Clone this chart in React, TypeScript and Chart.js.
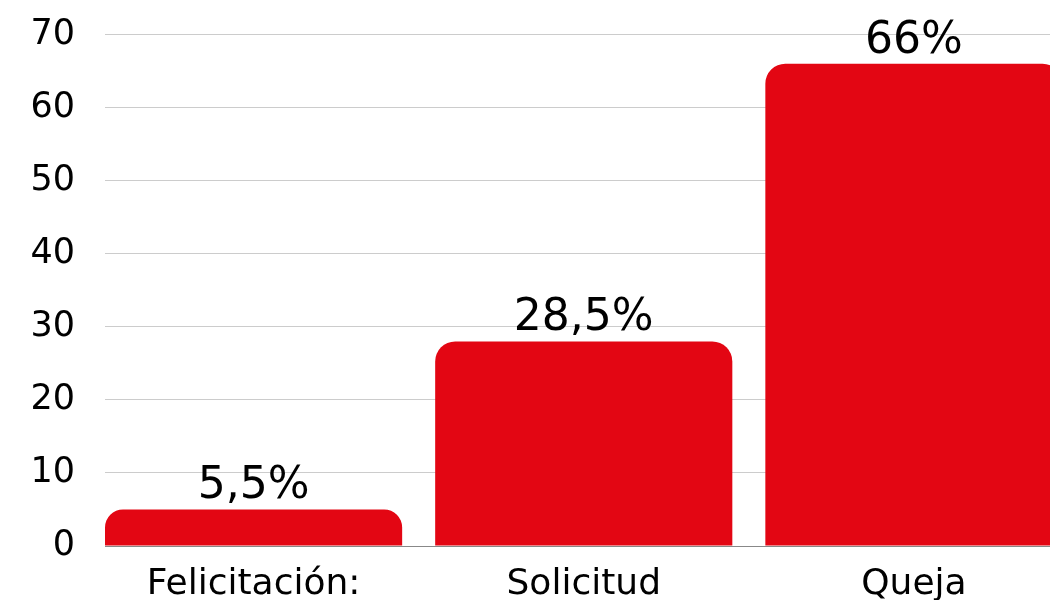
import React, { useEffect, useRef } from "react";
import { Chart, registerables } from "chart.js";

Chart.register(...registerables);

const categories = ["Felicitación:", "Solicitud", "Queja"];
const values = [5, 28, 66];
const valueLabels = ["5,5%", "28,5%", "66%"];
const yTicks = [0, 10, 20, 30, 40, 50, 60, 70];

const FONT = "'DejaVu Sans', sans-serif";
const GRID_START = 105;

const maskPlugin = {
  id: "gridMask",
  beforeDatasetsDraw(chart: any) {
    const ctx = chart.ctx;
    const a = chart.chartArea;
    ctx.save();
    ctx.fillStyle = "#fff";
    ctx.fillRect(a.left - 1, a.top - 2, GRID_START - a.left + 1, a.bottom - a.top + 4);
    ctx.restore();
  },
};

const labelPlugin = {
  id: "barLabels",
  afterDatasetsDraw(chart: any) {
    const ctx = chart.ctx;
    const meta = chart.getDatasetMeta(0);
    ctx.save();
    ctx.font = `400 44px ${FONT}`;
    ctx.fillStyle = "#000";
    ctx.textAlign = "center";
    ctx.textBaseline = "alphabetic";
    meta.data.forEach((bar: any, i: number) => {
      ctx.fillText(valueLabels[i], bar.x, bar.y - 11);
    });
    ctx.restore();
  },
};

export default function App() {
  const ref = useRef<HTMLCanvasElement>(null);
  useEffect(() => {
    document.body.style.margin = "0";
    const chart = new Chart(ref.current!, {
      type: "bar",
      data: {
        labels: categories,
        datasets: [
          {
            data: values,
            backgroundColor: "#E30613",
            borderRadius: 20,
            barPercentage: 0.9,
            categoryPercentage: 1,
          },
        ],
      },
      options: {
        responsive: false,
        animation: false,
        layout: { padding: { top: 17, right: 0, left: 0, bottom: 0 } },
        plugins: { legend: { display: false }, tooltip: { enabled: false } },
        scales: {
          x: {
            grid: { display: false },
            border: { display: true, color: "#888", width: 1 },
            ticks: {
              color: "#000",
              font: { family: FONT, size: 36 },
              padding: 9,
              maxRotation: 0,
            },
            afterFit(scale: any) {
              scale.height = 94;
            },
          },
          y: {
            min: 0,
            max: 70,
            afterBuildTicks(scale: any) {
              scale.ticks = yTicks.map((v) => ({ value: v }));
            },
            grid: { color: "#cccccc", drawTicks: false },
            border: { display: false },
            ticks: {
              color: "#000",
              font: { family: FONT, size: 35 },
              padding: 13.5,
            },
            afterFit(scale: any) {
              scale.width = 88.5;
            },
          },
        },
      },
      plugins: [maskPlugin, labelPlugin],
    });
    return () => chart.destroy();
  }, []);
  return (
    <div
      style={{
        position: "fixed",
        left: 0,
        top: 0,
        width: 1050,
        height: 600,
        overflow: "hidden",
        background: "#fff",
      }}
    >
      <canvas ref={ref} width={1079} height={640} />
    </div>
  );
}
